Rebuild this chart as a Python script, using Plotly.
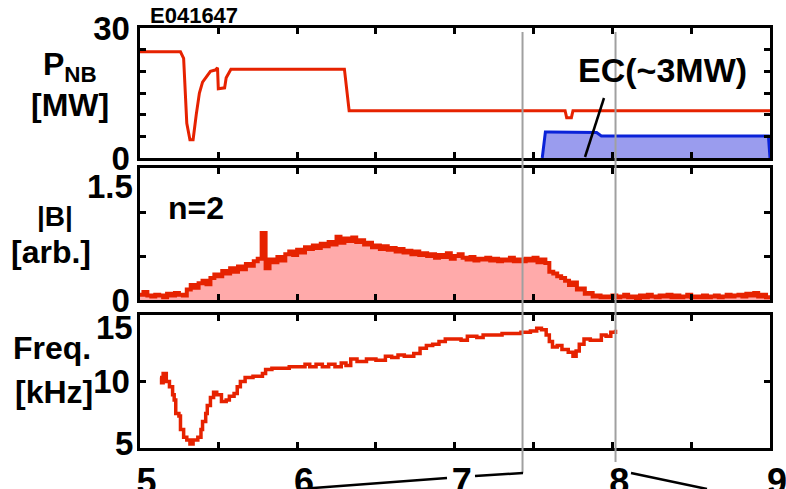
import plotly.graph_objects as go

# ---------------- data ----------------
# NB heating power [MW]
pnb_t = [5.00, 5.26, 5.28, 5.30, 5.32, 5.34, 5.36, 5.38, 5.40, 5.42, 5.45, 5.48, 5.495,
         5.50, 5.54, 5.55, 5.58, 6.30, 6.33, 7.70, 7.71, 7.74, 7.75, 9.00]
pnb_v = [24.5, 24.5, 23.0, 8.0, 4.2, 4.2, 10.0, 15.0, 17.5, 18.5, 20.0, 20.3, 20.8,
         16.0, 16.2, 18.5, 20.5, 20.5, 10.9, 10.9, 9.3, 9.3, 10.9, 10.9]

# EC heating power [MW]
ec_t = [7.555, 7.575, 7.60, 7.90, 7.93, 8.99, 9.00]
ec_v = [0.0, 6.0, 6.0, 5.9, 5.1, 5.1, 0.0]

# n=2 mode amplitude |B| [arb.], sampled every 25 ms from 5.0 s
b_t0 = 5.0
b_dt = 0.025
b_amp = [
    0.06, 0.09, 0.05, 0.04, 0.06, 0.05, 0.03, 0.07, 0.05, 0.08, 0.06, 0.05,
    0.12, 0.17, 0.14, 0.19, 0.22, 0.18, 0.25, 0.29,
    0.27, 0.33, 0.30, 0.36, 0.32, 0.38, 0.35, 0.41,
    0.39, 0.44, 0.47, 0.76,
    0.36, 0.46, 0.43, 0.49, 0.45, 0.52, 0.55, 0.51,
    0.57, 0.54, 0.60, 0.58, 0.62, 0.59, 0.64, 0.61,
    0.66, 0.63, 0.72, 0.65, 0.70, 0.67, 0.71, 0.66,
    0.68, 0.63, 0.65, 0.60, 0.62, 0.58, 0.61, 0.57,
    0.59, 0.55, 0.58, 0.54, 0.56, 0.52, 0.55, 0.51,
    0.53, 0.50, 0.52, 0.48, 0.51, 0.49, 0.53, 0.47,
    0.50, 0.52, 0.48, 0.46, 0.49, 0.45, 0.47, 0.46,
    0.48, 0.45, 0.47, 0.44, 0.46, 0.45, 0.48, 0.44,
    0.46, 0.44, 0.47, 0.45, 0.48, 0.43, 0.46, 0.42,
    0.32, 0.30, 0.27, 0.25, 0.22, 0.17, 0.20, 0.12,
    0.13, 0.07, 0.08, 0.04, 0.05, 0.03, 0.04, 0.03,
    0.05, 0.03, 0.04, 0.06, 0.03, 0.04, 0.02, 0.05,
    0.03, 0.06, 0.04, 0.03, 0.05, 0.04, 0.06, 0.03,
    0.05, 0.03, 0.04, 0.06, 0.03, 0.04, 0.03, 0.05,
    0.03, 0.04, 0.05, 0.03, 0.04, 0.06, 0.04, 0.05,
    0.06, 0.04, 0.07, 0.05, 0.08, 0.04, 0.06, 0.03,
    0.05,
]
b_t = [b_t0 + b_dt * i for i in range(len(b_amp))]

# mode frequency [kHz]
f_t = [5.13, 5.14, 5.15, 5.17, 5.19, 5.21, 5.22, 5.23, 5.25, 5.26, 5.28, 5.30, 5.32,
       5.34, 5.37, 5.39, 5.40, 5.42, 5.43, 5.45, 5.47, 5.49, 5.51, 5.52, 5.55, 5.57,
       5.60, 5.62, 5.64, 5.67, 5.72, 5.78, 5.80, 5.84, 5.90, 5.95, 6.00, 6.05, 6.08,
       6.12, 6.16, 6.20, 6.24, 6.28, 6.31, 6.34, 6.38, 6.44, 6.50, 6.56, 6.60, 6.64,
       6.68, 6.74, 6.78, 6.82, 6.86, 6.90, 6.94, 7.00, 7.04, 7.08, 7.14, 7.18, 7.24,
       7.30, 7.36, 7.42, 7.48, 7.52, 7.55, 7.58, 7.60, 7.62, 7.65, 7.68, 7.72, 7.75,
       7.77, 7.79, 7.82, 7.86, 7.90, 7.93, 7.96, 7.99, 8.02]
f_v = [10.3, 9.9, 10.6, 10.0, 9.6, 9.0, 8.6, 7.6, 7.4, 6.4, 5.8, 5.6, 5.3,
       5.6, 5.8, 6.4, 7.0, 7.6, 8.2, 8.8, 9.2, 9.0, 9.0, 8.5, 8.6, 8.9,
       9.1, 9.6, 10.0, 10.3, 10.4, 10.6, 10.9, 11.0, 11.0, 11.1, 11.1, 11.3, 11.1,
       11.3, 11.1, 11.3, 11.1, 11.4, 11.2, 11.7, 11.5, 11.7, 11.6, 11.9, 11.8, 12.0,
       11.9, 12.1, 12.5, 12.7, 12.8, 13.0, 13.2, 13.2, 13.1, 13.4, 13.3, 13.5, 13.5,
       13.6, 13.6, 13.7, 13.8, 14.0, 13.9, 13.5, 13.0, 12.6, 12.7, 12.4, 12.2, 11.9,
       12.3, 12.8, 13.2, 13.1, 13.1, 13.5, 13.4, 13.7, 13.9]

# marked times [s]
t_marks = [7.43, 8.02]

x_labels = [5, 6, 7, 8, 9]
pnb_labels = [0, 30]
b_labels = [0]          # 1.5 is written separately, just under the top edge
f_labels = [10]         # 5 and 15 are written separately, inside the edges
edge_labels = [("y2", 1.5, "1.5", -18), ("y3", 15, "15", -12), ("y3", 5, "5", 5)]

# ---------------- styling ----------------
W, H = 786, 489
RED = "#e62200"
PINK = "#ffaaaa"
BLUE = "#0a22d8"
LBLUE = "#9a9cee"
GRAY = "#a0a0a0"
FONT = "Liberation Sans"
TICK_SIZE = 33


def px(x):
    return x / W


def py(y):
    return 1 - y / H


x_dom = [px(139.5), px(770)]
doms = {
    "top": [py(158), py(28)],
    "mid": [py(300), py(168)],
    "bot": [py(448), py(315)],
}

fig = go.Figure()

fig.add_trace(go.Scatter(x=ec_t, y=ec_v, mode="lines", fill="tozeroy",
                         fillcolor=LBLUE, line=dict(color=BLUE, width=3),
                         xaxis="x", yaxis="y", showlegend=False))
fig.add_trace(go.Scatter(x=pnb_t, y=pnb_v, mode="lines",
                         line=dict(color=RED, width=3),
                         xaxis="x", yaxis="y", showlegend=False))
fig.add_trace(go.Scatter(x=b_t, y=b_amp, mode="lines", fill="tozeroy",
                         fillcolor=PINK, line=dict(color=RED, width=4, shape="hv"),
                         xaxis="x2", yaxis="y2", showlegend=False))
fig.add_trace(go.Scatter(x=f_t, y=f_v, mode="lines",
                         line=dict(color=RED, width=3.5, shape="hv"),
                         xaxis="x3", yaxis="y3", showlegend=False))

tickfont = dict(family=FONT, size=TICK_SIZE, color="black", weight="bold")
axis_common = dict(showline=True, linecolor="black", linewidth=3, mirror="allticks",
                   ticks="inside", ticklen=6, tickwidth=2.5, tickcolor="black",
                   showgrid=False, zeroline=False, automargin=False,
                   ticklabelstandoff=0, tickfont=tickfont)


def minor(tick0, dtick):
    return dict(tick0=tick0, dtick=dtick, ticks="inside", ticklen=6,
                tickwidth=2.5, tickcolor="black", showgrid=False)


xcommon = dict(axis_common, range=[5, 9], domain=x_dom, tickvals=x_labels,
               minor=minor(5, 0.5))

fig.update_layout(
    width=W, height=H,
    margin=dict(l=0, r=0, t=0, b=0),
    paper_bgcolor="white", plot_bgcolor="white",
    xaxis=dict(xcommon, anchor="y", showticklabels=False),
    xaxis2=dict(xcommon, anchor="y2", showticklabels=False),
    xaxis3=dict(xcommon, anchor="y3", ticklabelshift=7, ticklabeloverflow="allow",
                tickfont=dict(tickfont, size=36)),
    yaxis=dict(axis_common, range=[0, 30], domain=doms["top"], anchor="x",
               tickvals=pnb_labels, minor=minor(0, 5)),
    yaxis2=dict(axis_common, range=[0, 1.5], domain=doms["mid"], anchor="x2",
                tickvals=b_labels, minor=minor(0, 0.5)),
    yaxis3=dict(axis_common, range=[5, 15], domain=doms["bot"], anchor="x3",
                tickvals=f_labels, minor=minor(5, 5)),
)

for yref, val, text, shift in edge_labels:
    fig.add_annotation(text=text, xref="paper", x=px(135), yref=yref, y=val,
                       yshift=shift, xanchor="right", yanchor="middle",
                       showarrow=False, font=tickfont)

# marked times through all panels
shapes = []
for t, ybot in zip(t_marks, [473, 462]):
    shapes.append(dict(type="line", xref="x", yref="paper", x0=t, x1=t,
                       y0=py(ybot), y1=py(32), line=dict(color=GRAY, width=2),
                       layer="above"))

# connector lines below the time axis and the EC pointer
for (x0, y0, x1, y1) in [(523, 473, 475, 476), (447, 478, 300, 489),
                         (631, 473, 707, 489), (604, 98, 585, 157)]:
    shapes.append(dict(type="line", xref="paper", yref="paper",
                       x0=px(x0), y0=py(y0), x1=px(x1), y1=py(y1),
                       line=dict(color="black", width=2.5), layer="above"))
fig.update_layout(shapes=shapes)


def label(text, x, y, size, xanchor="center"):
    fig.add_annotation(text=text, x=px(x), y=py(y), xref="paper", yref="paper",
                       xanchor=xanchor, yanchor="middle", showarrow=False,
                       font=dict(family=FONT, size=size, color="black", weight="bold"))


label("P<sub>NB</sub>", 70, 67, 32)
label("[MW]", 70, 105, 32)
label("|B|", 55, 216, 28)
label("[arb.]", 51, 252, 32)
label("Freq.", 52, 348, 32)
label("[kHz]", 54, 392, 32)
label("E041647", 194, 15, 22)
label("EC(~3MW)", 662, 70, 34)
label("n=2", 196, 208, 32)

fig.write_html("out.html")
